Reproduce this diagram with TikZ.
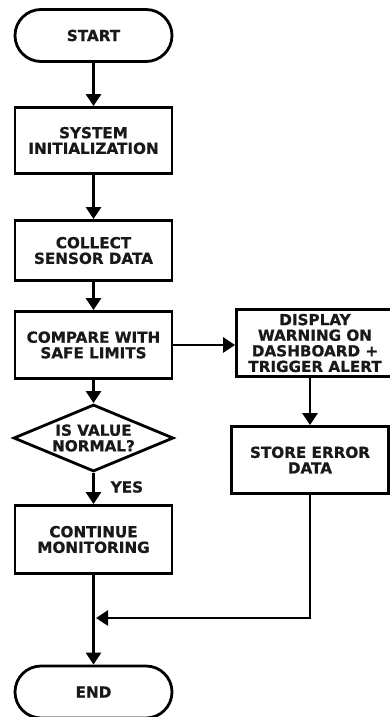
\documentclass[tikz,border=0pt]{standalone}
\usepackage{fontspec}
\setsansfont[BoldFeatures={FakeBold=0.8}]{DejaVu Sans}
\usetikzlibrary{shapes.geometric,arrows.meta}

\begin{document}
\begin{tikzpicture}[x=1pt, y=1pt, line width=2.8pt,
    every node/.style={font=\sffamily\bfseries\fontsize{15.2}{15.6}\selectfont, align=center, text=black!90},
    box/.style={draw, rectangle, minimum width=157pt, minimum height=67pt, inner sep=2pt},
    term/.style={draw, rectangle, rounded corners=26pt, minimum width=157pt, minimum height=52pt},
    decision/.style={draw, diamond, aspect=2.3, minimum width=160pt, minimum height=67pt, inner sep=0pt},
    arr/.style={-{Triangle[width=15pt,length=12pt]}}]
    \useasboundingbox (0,0) rectangle (390,-717);

    % main column
    \node[term] (start) at (93.5,-35.5) {START};
    \node[box, minimum height=66pt] (init) at (93.5,-140.5) {SYSTEM\\INITIALIZATION};
    \node[box, minimum height=60pt] (collect) at (93.5,-250.5) {COLLECT\\SENSOR DATA};
    \node[box] (compare) at (93.5,-345) {COMPARE WITH\\SAFE LIMITS};
    \node[decision] (check) at (93.5,-438) {IS VALUE\\NORMAL?};
    \node[box, minimum height=68pt] (cont) at (93.5,-539.5) {CONTINUE\\MONITORING};
    \node[term] (end) at (93.5,-692) {END};

    % alert branch
    \node[box] (warn) at (315,-343) {DISPLAY\\WARNING ON\\DASHBOARD +\\TRIGGER ALERT};
    \node[box] (store) at (310,-460) {STORE ERROR\\DATA};

    \node[anchor=west] (yes) at (106,-487) {YES};
    \coordinate (merge) at (96,-618);

    \draw[arr] (start) -- (init);
    \draw[arr] (init) -- (collect);
    \draw[arr] (collect) -- (compare);
    \draw[arr] (compare) -- (check);
    \draw[arr] (check) -- (cont);
    \draw[arr] (cont) -- (end);
    \draw[arr] (compare.east) -- (compare.east -| warn.west);
    \draw[arr] (store.north |- warn.south) -- (store.north);
    \draw[arr] (store) |- (merge);
\end{tikzpicture}
\end{document}
